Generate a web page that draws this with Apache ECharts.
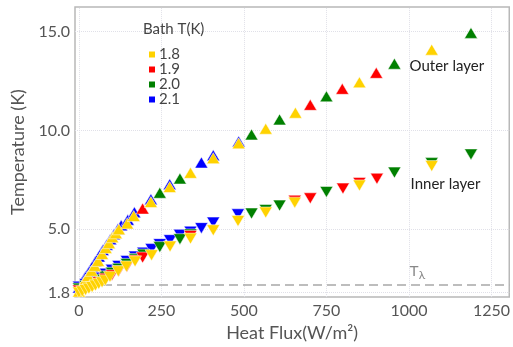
<!DOCTYPE html>
<html><head><meta charset="utf-8">
<script src="https://cdn.jsdelivr.net/npm/echarts@6/dist/echarts.min.js"></script>
<style>html,body{margin:0;padding:0;background:#fff}#c{width:513px;height:347px}</style>
</head><body><div id="c"></div>
<script>
// Tick labels
const xTicks = [0, 250, 500, 750, 1000, 1250];
const yTicks = [1.8, 5.0, 10.0, 15.0];
const lambdaT = 2.17;
const bathTemps = ['1.8', '1.9', '2.0', '2.1'];

// Outer layer (flux W/m2, temperature K)
const outer18 = [[0,1.85],[10,2.15],[20,2.45],[28,2.64],[38,2.9],[48,3.15],[58,3.4],[70,3.75],[81,4.05],[91,4.3],[101,4.6],[112,4.8],[121,5.0],[146,5.3],[166,5.67],[218,6.38],[275,7.14],[338,7.86],[407,8.6],[484,9.35],[566,10.09],[656,10.9],[850,12.44],[1069,14.09]];
const outer19 = [[193,6.05],[701,11.3],[798,12.11],[901,12.92]];
const outer20 = [[245,6.85],[306,7.57],[523,9.8],[608,10.56],[750,11.73],[956,13.38],[1188,14.94]];
const outer21 = [[0,2.05],[10,2.35],[20,2.62],[30,2.85],[40,3.1],[50,3.38],[60,3.62],[72,3.95],[84,4.22],[95,4.5],[106,4.75],[118,5.02],[128,5.2],[148,5.48],[168,5.86],[218,6.52],[275,7.28],[371,8.38],[407,8.75],[484,9.45]];

// Inner layer
const inner18 = [[0,1.8],[10,1.86],[20,1.93],[30,2.0],[40,2.08],[50,2.16],[60,2.24],[70,2.32],[80,2.42],[94,2.6],[119,2.88],[144,3.12],[170,3.38],[220,3.69],[276,4.13],[338,4.53],[407,4.95],[482,5.42],[566,5.85],[654,6.35],[850,7.22],[1069,8.2]];
const inner19 = [[0,1.9],[20,2.02],[40,2.16],[60,2.32],[80,2.5],[100,2.68],[120,2.88],[145,3.1],[170,3.42],[193,3.57],[338,4.66],[654,6.45],[701,6.57],[800,7.06],[850,7.35],[903,7.56]];
const inner20 = [[0,2.0],[20,2.12],[40,2.28],[60,2.45],[80,2.62],[100,2.8],[120,3.0],[145,3.25],[170,3.5],[195,3.72],[245,4.1],[306,4.5],[338,4.74],[523,5.8],[566,5.98],[608,6.2],[750,6.89],[956,7.87],[1069,8.35],[1188,8.79]];
const inner21 = [[0,2.1],[20,2.22],[40,2.38],[60,2.55],[80,2.75],[100,2.95],[120,3.15],[145,3.4],[170,3.62],[195,3.82],[220,4.0],[245,4.25],[276,4.45],[306,4.72],[338,4.88],[371,5.06],[407,5.34],[482,5.76]];

const colors = {'1.8':'#FFD200','1.9':'#FF0000','2.0':'#008000','2.1':'#0000FF'};
const FONT = 'Lato';

function sc(name, data, inner) {
  return {
    type: 'scatter', name: name, data: data, z: 5,
    symbol: 'triangle', symbolSize: [13, 11], symbolRotate: inner ? 180 : 0,
    itemStyle: {color: colors[name], borderColor: '#ffffff', borderWidth: 0.5, opacity: 1},
    emphasis: {disabled: true}, silent: true
  };
}

const gridLines = xTicks.map(v => ({xAxis: v})).concat(yTicks.map(v => ({yAxis: v})));

const chart = echarts.init(document.getElementById('c'), null, {renderer: 'canvas'});
const option = {
  animation: false,
  backgroundColor: '#fff',
  grid: {left: 75, top: 7, right: 3, bottom: 49, show: true, borderColor: '#b8b8b8', borderWidth: 1.5, backgroundColor: 'transparent'},
  xAxis: {
    type: 'value', min: -12, max: 1304,
    axisLine: {show: false}, axisTick: {show: false}, splitLine: {show: false},
    axisLabel: {customValues: xTicks, formatter: v => String(v), color: '#555', fontFamily: FONT, fontSize: 16, margin: 6},
    name: 'Heat Flux(W/m²)', nameLocation: 'middle', nameGap: 26,
    nameTextStyle: {color: '#555', fontFamily: FONT, fontSize: 18}
  },
  yAxis: {
    type: 'value', min: 1.57, max: 16.25,
    axisLine: {show: false}, axisTick: {show: false}, splitLine: {show: false},
    axisLabel: {customValues: yTicks, formatter: v => v.toFixed(1), color: '#555', fontFamily: FONT, fontSize: 16, margin: 5},
    name: 'Temperature (K)', nameLocation: 'middle', nameGap: 47,
    nameTextStyle: {color: '#555', fontFamily: FONT, fontSize: 18}
  },
  legend: {
    data: bathTemps, orient: 'vertical', left: 142, top: 42,
    icon: 'rect', itemWidth: 8, itemHeight: 8, itemGap: 0,
    selectedMode: false,
    textStyle: {color: '#444', fontFamily: FONT, fontSize: 15, padding: [0,0,0,-2]}
  },
  series: [
    {
      type: 'line', data: [], silent: true, z: 0,
      markLine: {
        silent: true, symbol: 'none', animation: false, z: 0,
        lineStyle: {color: '#e0e0e8', type: 'dotted', width: 1},
        label: {show: false}, emphasis: {disabled: true},
        data: gridLines
      }
    },
    {
      type: 'line', data: [], silent: true, z: 1,
      markLine: {
        silent: true, symbol: 'none', animation: false, z: 1,
        lineStyle: {color: '#a8a8a8', type: [9, 5], width: 1.6},
        label: {show: false}, emphasis: {disabled: true},
        data: [{yAxis: lambdaT}]
      }
    },
    sc('2.1', outer21, false), sc('2.1', inner21, true),
    sc('2.0', outer20, false), sc('2.0', inner20, true),
    sc('1.9', outer19, false), sc('1.9', inner19, true),
    sc('1.8', outer18, false), sc('1.8', inner18, true)
  ]
};
chart.setOption(option);

const pOuter = chart.convertToPixel({gridIndex: 0}, [1002, 13.25]);
const pInner = chart.convertToPixel({gridIndex: 0}, [1005, 7.27]);
const pLam = chart.convertToPixel({gridIndex: 0}, [1002, lambdaT]);
chart.setOption({
  graphic: [
    {type: 'text', left: 143, top: 22, style: {text: 'Bath T(K)', fill: '#444', font: '15px ' + FONT}},
    {type: 'text', x: pOuter[0], y: pOuter[1], style: {text: 'Outer layer', fill: '#222', font: '15px ' + FONT, textVerticalAlign: 'middle'}},
    {type: 'text', x: pInner[0], y: pInner[1], style: {text: 'Inner layer', fill: '#222', font: '15px ' + FONT, textVerticalAlign: 'middle'}},
    {type: 'text', x: pLam[0], y: pLam[1] - 4, style: {
      text: '{a|T}{b|λ}', textVerticalAlign: 'bottom',
      rich: {a: {fill: '#888', font: '15px ' + FONT, fontSize: 15}, b: {fill: '#888', fontSize: 12, fontFamily: FONT, padding: [6,0,0,0]}}
    }}
  ]
});
</script></body></html>
